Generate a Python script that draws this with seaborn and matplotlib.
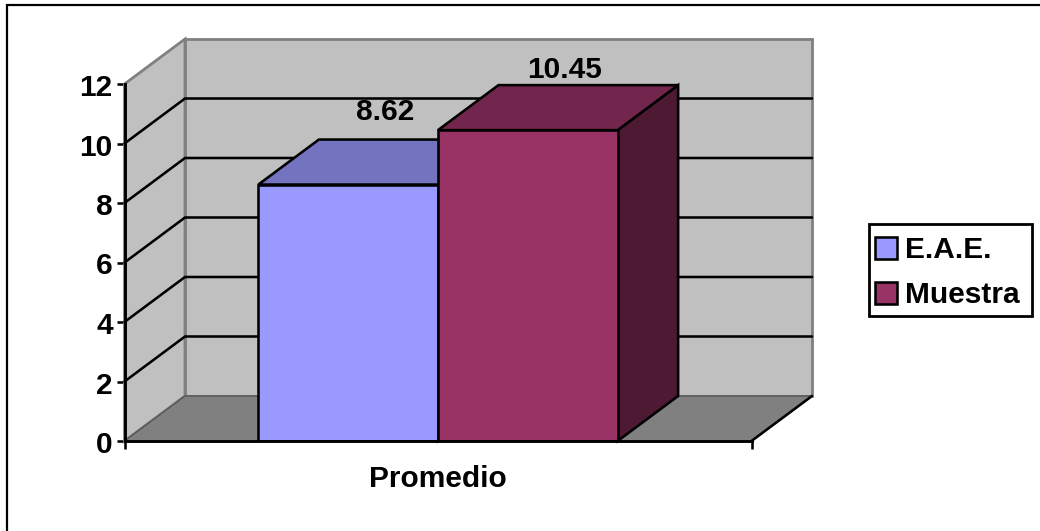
import matplotlib
matplotlib.use("Agg")
import matplotlib.pyplot as plt
from matplotlib.lines import Line2D
from matplotlib.patches import Polygon, Rectangle
from matplotlib.transforms import ScaledTranslation
import pandas as pd
import seaborn as sns

# Chart values
category = ["Promedio"]
series_names = ["E.A.E.", "Muestra"]
series_values = [8.62, 10.45]
y_ticks = [0, 2, 4, 6, 8, 10, 12]

# Face colours of each box: front, top, side
front_colors = ["#9999FF", "#993366"]
top_colors = ["#7373BF", "#73264D"]
side_colors = ["#4D4D80", "#4D1933"]
WALL = "#C0C0C0"
FLOOR = "#808080"
EDGE_GRAY = "#808080"

W, H = 1040, 531
sns.set_theme(style="white")
plt.rcParams["font.family"] = ["Liberation Sans", "DejaVu Sans"]
plt.rcParams["font.weight"] = "bold"
FS = 21.5
LW = 1.85

fig = plt.figure(figsize=(W / 100, H / 100), dpi=100, facecolor="white")
# Axes span the front plane of the oblique box
left, right, top, bottom = 124.5, 751.5, 84, 441
ax = fig.add_axes([left / W, 1 - bottom / H, (right - left) / W, (bottom - top) / H])
ax.patch.set_visible(False)

df = pd.DataFrame({"grupo": category * len(series_names),
                   "serie": series_names,
                   "valor": series_values})
sns.barplot(data=df, x="grupo", y="valor", hue="serie", hue_order=series_names,
            palette=front_colors, width=0.573, gap=0, saturation=1,
            edgecolor="black", linewidth=LW, ax=ax, zorder=3)

x0, x1 = -0.5, 0.5
ymax = y_ticks[-1]
ax.set_xlim(x0, x1)
ax.set_ylim(0, ymax)

# Oblique depth expressed in data units
dx = 60.5 / (right - left)
dy = 45 / ((bottom - top) / ymax)


def face(points, fc, ec, lw=LW, z=1.0):
    ax.add_patch(Polygon(points, closed=True, facecolor=fc, edgecolor=ec,
                         linewidth=lw, clip_on=False, zorder=z, joinstyle="miter"))


# Back wall, side wall and floor
face([(x0 + dx, dy), (x1 + dx, dy), (x1 + dx, ymax + dy), (x0 + dx, ymax + dy)], WALL, EDGE_GRAY, 2.0, 0.5)
face([(x0, 0), (x0 + dx, dy), (x0 + dx, ymax + dy), (x0, ymax)], WALL, EDGE_GRAY, 2.0, 0.6)
face([(x0, 0), (x1, 0), (x1 + dx, dy), (x0 + dx, dy)], FLOOR, "#555555", 1.0, 0.7)
ax.plot([x1, x1 + dx], [0, dy], color="black", lw=LW, clip_on=False, zorder=0.8)

# Gridlines wrap from the side wall onto the back wall
for t in y_ticks[1:-1]:
    ax.plot([x0, x0 + dx, x1 + dx], [t, t + dy, t + dy], color="black", lw=LW,
            clip_on=False, zorder=0.9, solid_joinstyle="miter")

# Top and side faces of each box, then the value above it
label_shift = [(0.0585, 2.45), (0.0585, 2.03)]
for i, bar in enumerate(ax.patches[:len(series_values)]):
    xa, w, v = bar.get_x(), bar.get_width(), bar.get_height()
    xb = xa + w
    z = 1.5 + i * 0.1
    face([(xb, 0), (xb + dx, dy), (xb + dx, v + dy), (xb, v)], side_colors[i], "black", LW, z)
    face([(xa, v), (xb, v), (xb + dx, v + dy), (xa + dx, v + dy)], top_colors[i], "black", LW, z)
    bar.set_zorder(z + 0.05)
    ax.text(xa + w / 2 + label_shift[i][0], v + label_shift[i][1], f"{v:.2f}",
            ha="center", va="center", fontsize=FS, fontweight="bold",
            color="black", zorder=5, clip_on=False)

# Axes lines and ticks
for side in ("top", "right"):
    ax.spines[side].set_visible(False)
for side in ("left", "bottom"):
    ax.spines[side].set_color("black")
    ax.spines[side].set_linewidth(2.1)
    ax.spines[side].set_zorder(4)
ax.set_yticks(y_ticks)
ax.set_xticks([x0, x1], ["", ""])
ax.tick_params(axis="both", which="major", direction="out", length=5.5, width=LW,
               color="black", labelcolor="black", left=True, bottom=True)
ax.tick_params(axis="y", labelsize=FS, pad=3)
nudge = ScaledTranslation(0, -1 / 100, fig.dpi_scale_trans)
for lab in ax.get_yticklabels():
    lab.set_fontweight("bold")
    lab.set_transform(lab.get_transform() + nudge)
ax.set_ylabel("")
ax.set_xlabel(category[0], fontsize=FS, fontweight="bold", color="black", labelpad=8)

# Legend: outlined box with the entries placed inside it
fig.add_artist(Rectangle((869 / W, 1 - 316 / H), 163 / W, 92 / H, transform=fig.transFigure,
                         facecolor="white", edgecolor="black", linewidth=2.0, zorder=5))
sns.move_legend(ax, "upper left", bbox_to_anchor=(875 / W, 1 - 236 / H),
                bbox_transform=fig.transFigure, title=None, frameon=False,
                fontsize=FS, borderaxespad=0, borderpad=0, labelspacing=0.58,
                handlelength=0.75, handleheight=0.75, handletextpad=0.25)
leg = ax.get_legend()
leg.remove()
fig.add_artist(leg)
leg.set_zorder(6)
for text in leg.get_texts():
    text.set_fontweight("bold")
    text.set_color("black")

# Chart area outline, running off the top and left of the canvas edges
fig.add_artist(Line2D([7 / W, 7 / W, 1], [0, 1 - 5 / H, 1 - 5 / H], color="black",
                      lw=1.6, transform=fig.transFigure, solid_joinstyle="miter"))

fig.savefig("out.png", dpi=100, facecolor="white")
